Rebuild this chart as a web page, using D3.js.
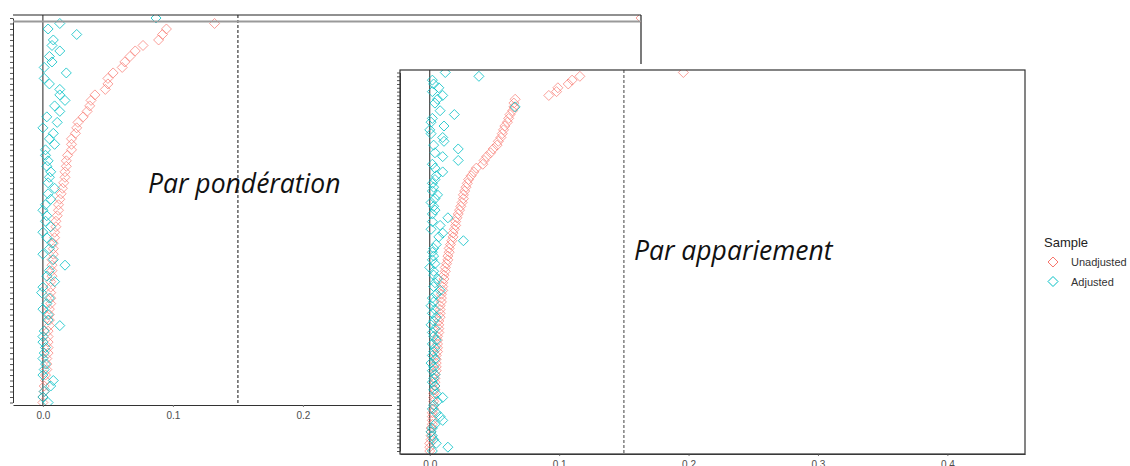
<!DOCTYPE html>
<html>
<head>
<meta charset="utf-8">
<script src="https://cdn.jsdelivr.net/npm/d3@7"></script>
<style>
  body { margin: 0; background: #fff; }
  .tick text { font-family: "Liberation Sans", Arial, sans-serif; fill: #4d4d4d; }
</style>
</head>
<body>
<svg id="chart" width="1130" height="466"></svg>
<script>
// absolute standardized mean differences, one row per covariate (top to bottom)
var leftUnadjusted = [0.46, 0.132, 0.095, 0.092, 0.089, 0.077, 0.071, 0.067, 0.063, 0.061,
  0.054, 0.050, 0.050, 0.048, 0.040, 0.037, 0.036, 0.034, 0.031, 0.027,
  0.026, 0.025, 0.022, 0.022, 0.022, 0.019, 0.018, 0.018, 0.017, 0.017,
  0.016, 0.015, 0.014, 0.013, 0.012, 0.012, 0.011, 0.010, 0.010, 0.009,
  0.009, 0.008, 0.008, 0.008, 0.007, 0.007, 0.007, 0.007, 0.006, 0.006,
  0.006, 0.006, 0.006, 0.005, 0.005, 0.005, 0.005, 0.004, 0.004, 0.004,
  0.004, 0.004, 0.003, 0.003, 0.003, 0.002, 0.002, 0.001, 0.001, 0.000, 0.000];
var leftAdjusted = [0.087, 0.013, 0.004, 0.026, 0.008, 0.007, 0.013, 0.005, 0.007, 0.001,
  0.018, 0.001, 0.005, 0.013, 0.013, 0.017, 0.009, 0.013, 0.003, 0.011,
  0.000, 0.008, 0.005, 0.009, 0.002, 0.002, 0.004, 0.003, 0.006, 0.005,
  0.004, 0.009, 0.004, 0.006, 0.002, 0.000, 0.003, 0.002, 0.006, 0.000,
  0.003, 0.007, 0.005, 0.000, 0.008, 0.017, 0.005, 0.003, 0.009, 0.000,
  -0.001, 0.005, 0.003, 0.000, 0.004, 0.004, 0.013, 0.001, 0.000, 0.000,
  0.002, 0.001, 0.000, 0.002, 0.001, 0.000, 0.008, 0.006, 0.001, 0.000, 0.004];

var rightUnadjusted = [0.196, 0.116, 0.110, 0.107, 0.099, 0.098, 0.092, 0.066, 0.065, 0.065,
  0.064, 0.062, 0.061, 0.060, 0.058, 0.057, 0.056, 0.055, 0.053, 0.052,
  0.049, 0.047, 0.044, 0.042, 0.041, 0.036, 0.034, 0.032, 0.030, 0.029,
  0.028, 0.027, 0.026, 0.026, 0.025, 0.024, 0.023, 0.022, 0.021, 0.020,
  0.020, 0.019, 0.018, 0.018, 0.017, 0.016, 0.015, 0.015, 0.014, 0.014,
  0.013, 0.012, 0.012, 0.011, 0.011, 0.010, 0.010, 0.010, 0.009, 0.009,
  0.009, 0.008, 0.008, 0.008, 0.008, 0.007, 0.007, 0.007, 0.007, 0.006,
  0.006, 0.006, 0.006, 0.006, 0.005, 0.005, 0.005, 0.005, 0.005, 0.004,
  0.004, 0.004, 0.004, 0.004, 0.003, 0.003, 0.003, 0.003, 0.003, 0.002,
  0.002, 0.002, 0.002, 0.001, 0.001, 0.001, 0.001, 0.000, 0.000, 0.000];
var rightAdjusted = [0.012, 0.038, 0.002, 0.003, 0.007, 0.002, 0.010, 0.006, 0.004, 0.066,
  0.008, 0.019, 0.002, 0.001, 0.011, 0.000, 0.001, 0.010, 0.011, 0.003,
  0.022, 0.004, 0.010, 0.022, 0.002, 0.004, 0.010, 0.005, 0.004, 0.002,
  0.003, 0.002, 0.006, 0.004, 0.001, 0.003, 0.004, 0.002, 0.014, 0.002,
  0.008, 0.001, 0.010, 0.007, 0.026, 0.005, 0.003, 0.002, 0.003, 0.002,
  0.004, 0.000, 0.003, 0.003, 0.006, 0.004, 0.003, 0.008, 0.005, 0.002,
  0.003, 0.001, 0.004, 0.002, 0.005, 0.003, 0.001, 0.004, 0.002, 0.003,
  0.005, 0.002, 0.004, 0.003, 0.002, 0.004, 0.001, 0.003, 0.002, 0.004,
  0.003, 0.002, 0.004, 0.003, 0.005, 0.010, 0.006, 0.003, 0.002, 0.005,
  0.008, 0.010, 0.004, 0.002, 0.001, 0.002, 0.003, 0.005, 0.014, 0.002];

var xTicks = [0, 0.1, 0.2, 0.3, 0.4];
var threshold = 0.15;
var xDomain = [-0.023, 0.46];
var sampleLabels = ["Unadjusted", "Adjusted"];
var sampleColors = ["#F8766D", "#00BFC4"];

var svg = d3.select("#chart");

function diamond(r) {
  return "M0," + (-r) + "L" + r + ",0L0," + r + "L" + (-r) + ",0Z";
}

function panel(g, id, box, unadj, adj, axisColor, refColor, refWidth) {
  var x = d3.scaleLinear().domain(xDomain).range([box.left, box.right]);
  var y = d3.scalePoint().domain(d3.range(unadj.length)).range([box.first, box.last]);

  g.append("clipPath").attr("id", id)
    .append("rect")
    .attr("x", box.left).attr("y", box.top)
    .attr("width", box.right - box.left).attr("height", box.bottom - box.top);

  // covariate ticks, no labels
  var ya = g.append("g")
    .attr("transform", "translate(" + box.left + ",0)")
    .call(d3.axisLeft(y).tickFormat("").tickSize(3).tickSizeOuter(0));
  ya.select(".domain").attr("stroke", axisColor);
  ya.selectAll(".tick line").attr("stroke", "#555");

  var xa = g.append("g")
    .attr("transform", "translate(0," + box.bottom + ")")
    .call(d3.axisBottom(x).tickValues(xTicks).tickFormat(d3.format(".1f")).tickSize(2).tickSizeOuter(0));
  xa.select(".domain").attr("stroke", axisColor);
  xa.selectAll(".tick line").attr("stroke", "#777");
  xa.selectAll(".tick text").attr("font-size", 10).attr("dy", "0.9em");

  var inner = g.append("g").attr("clip-path", "url(#" + id + ")");

  inner.append("line")
    .attr("x1", x(0)).attr("x2", x(0)).attr("y1", box.top).attr("y2", box.bottom)
    .attr("stroke", "#222").attr("stroke-width", 1);
  inner.append("line")
    .attr("x1", x(threshold)).attr("x2", x(threshold)).attr("y1", box.top).attr("y2", box.bottom)
    .attr("stroke", refColor).attr("stroke-width", refWidth).attr("stroke-dasharray", "3,2");

  [unadj, adj].forEach(function(vals, k) {
    inner.selectAll(".pt" + k)
      .data(vals)
      .enter().append("path")
      .attr("class", "pt" + k)
      .attr("d", diamond(5))
      .attr("transform", function(d, i) { return "translate(" + x(d) + "," + y(i) + ")"; })
      .attr("fill", "none")
      .attr("stroke", sampleColors[k])
      .attr("stroke-opacity", k === 0 ? 0.7 : 0.8)
      .attr("stroke-width", 1);
  });
  return x;
}

// left panel (weighting), cropped at the top
var gL = svg.append("g");
panel(gL, "clipL", {left: 13, right: 641, top: 15, bottom: 405, first: 18, last: 402.5},
  leftUnadjusted, leftAdjusted, "#333", "#111", 1);
gL.append("line").attr("x1", 13).attr("x2", 641).attr("y1", 15).attr("y2", 15)
  .attr("stroke", "#222").attr("stroke-width", 1.2);
gL.append("line").attr("x1", 641).attr("x2", 641).attr("y1", 15).attr("y2", 405)
  .attr("stroke", "#222").attr("stroke-width", 1.2);
gL.append("line").attr("x1", 13).attr("x2", 641).attr("y1", 21.5).attr("y2", 21.5)
  .attr("stroke", "#9a9a9a").attr("stroke-width", 2);

gL.append("text")
  .attr("x", 148).attr("y", 193)
  .attr("font-family", "'Open Sans', sans-serif")
  .attr("font-style", "italic")
  .attr("font-size", 26.5)
  .attr("fill", "#111")
  .text("Par pondération");

// right panel (matching), pasted over the left one
svg.append("rect").attr("x", 392).attr("y", 64).attr("width", 738).attr("height", 402).attr("fill", "#fff");

var gR = svg.append("g");
panel(gR, "clipR", {left: 400, right: 1025, top: 70, bottom: 454, first: 72.5, last: 451},
  rightUnadjusted, rightAdjusted, "#444", "#888", 1.6);
gR.append("rect").attr("x", 400).attr("y", 70).attr("width", 625).attr("height", 384)
  .attr("fill", "none").attr("stroke", "#333").attr("stroke-width", 1.2);

gR.append("text")
  .attr("x", 634).attr("y", 260)
  .attr("font-family", "'Open Sans', sans-serif")
  .attr("font-style", "italic")
  .attr("font-size", 26.5)
  .attr("fill", "#111")
  .text("Par appariement");

// legend
var lg = svg.append("g").attr("transform", "translate(1044,0)")
  .attr("font-family", "'Liberation Sans', Arial, sans-serif");
lg.append("text").attr("x", 0).attr("y", 247).attr("font-size", 13).attr("fill", "#222").text("Sample");
lg.selectAll(".key")
  .data(sampleLabels)
  .enter().append("g")
  .attr("class", "key")
  .attr("transform", function(d, i) { return "translate(0," + (262 + i * 19.5) + ")"; })
  .each(function(d, i) {
    var k = d3.select(this);
    k.append("path").attr("d", diamond(5)).attr("transform", "translate(9,0)")
      .attr("fill", "none").attr("stroke", sampleColors[i]).attr("stroke-width", 1);
    k.append("text").attr("x", 27).attr("y", 4).attr("font-size", 11).attr("fill", "#333").text(d);
  });
</script>
</body>
</html>
